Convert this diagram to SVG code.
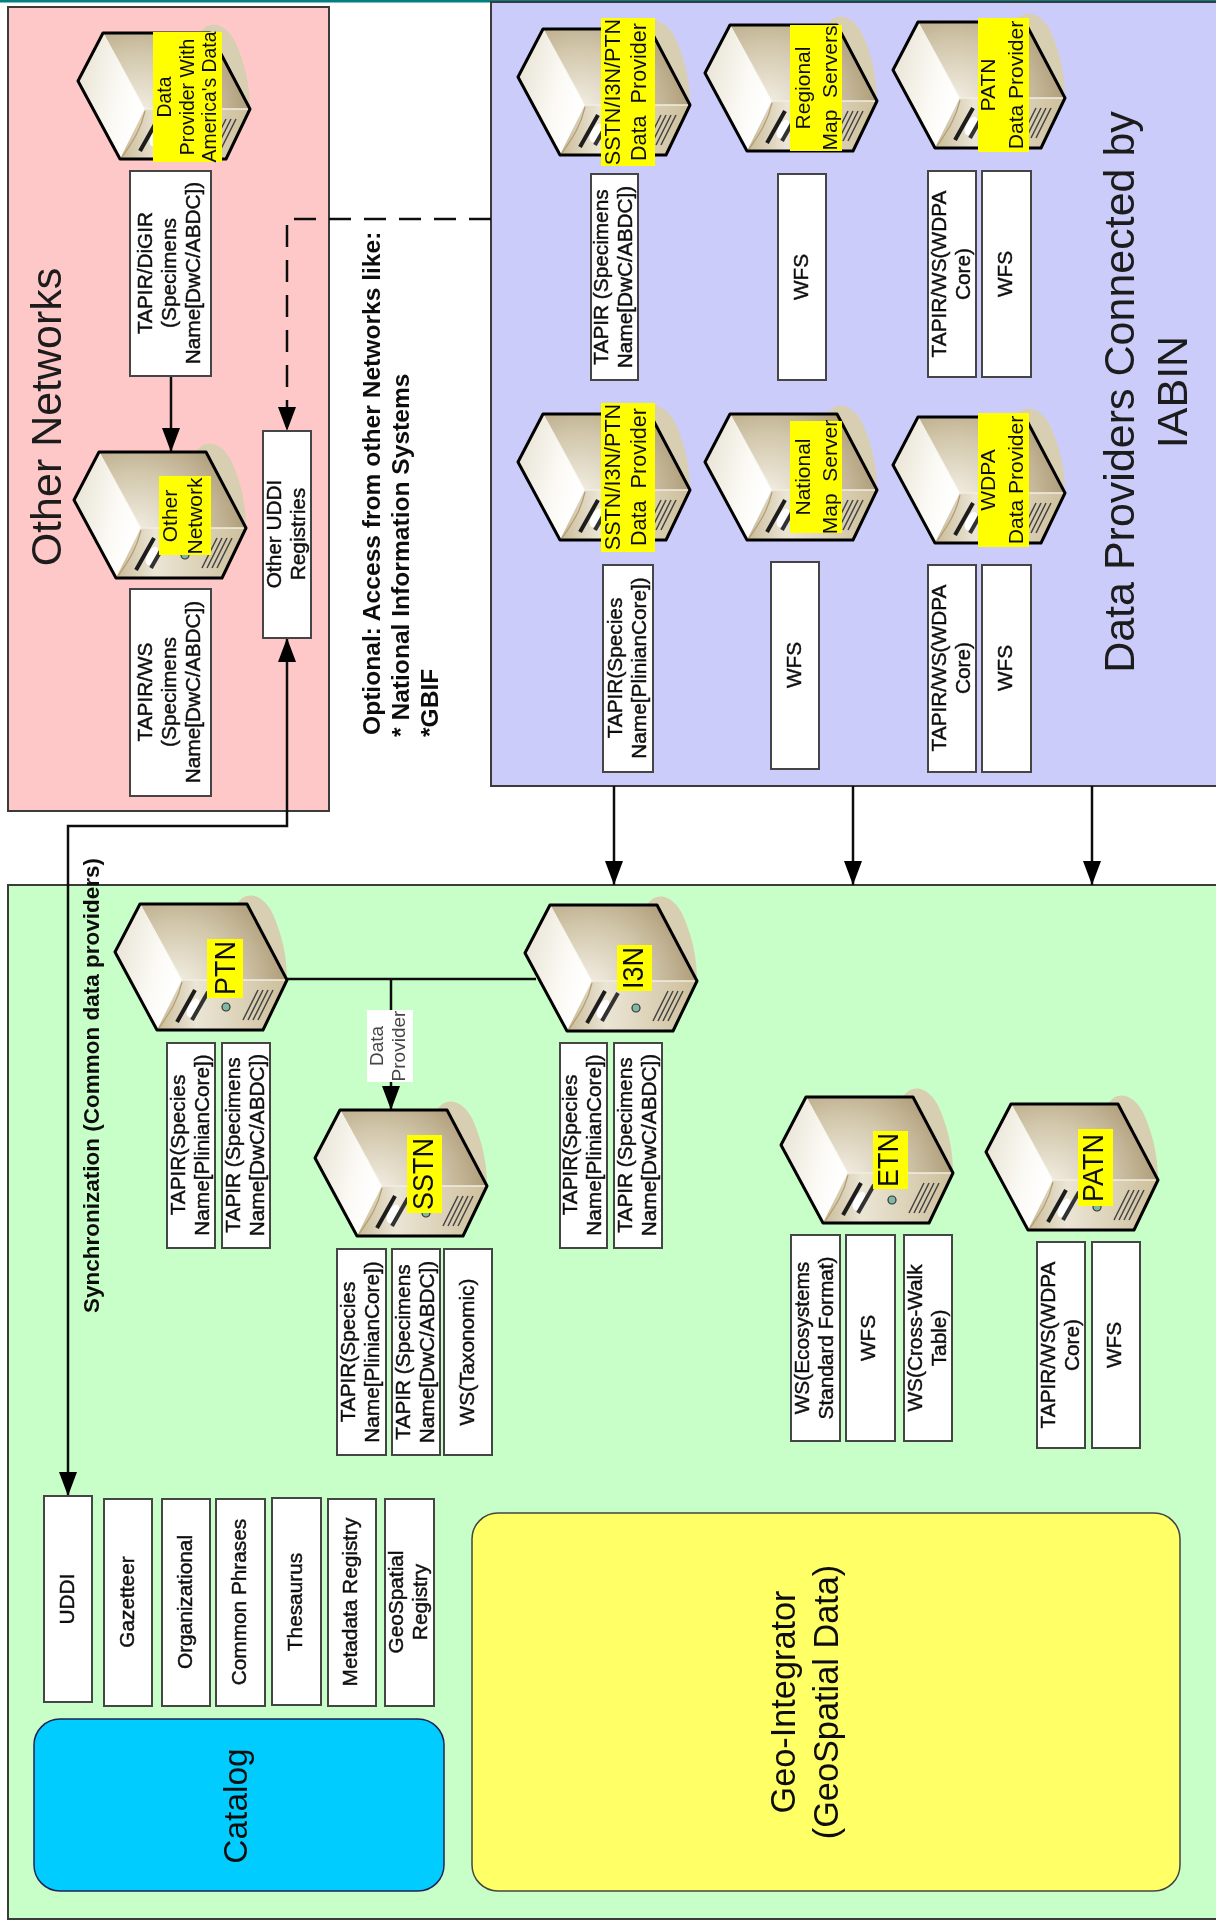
<svg xmlns="http://www.w3.org/2000/svg" xmlns:xlink="http://www.w3.org/1999/xlink" width="1216" height="1920" viewBox="0 0 1216 1920">
<style>
text{font-family:"Liberation Sans",Arial,sans-serif;fill:#111}
.panel{stroke:#3a3a3a;stroke-width:2}
.box{fill:#fff;stroke:#444;stroke-width:2}
.b text{font-size:20.8px;text-anchor:middle;stroke:#111;stroke-width:.45}
.y{fill:#ff0}
.l{text-anchor:middle}
.ttl{font-size:43px;text-anchor:middle;fill:#1a1a1a}
.c{fill:none;stroke:#111;stroke-width:2.5}
</style>
<defs>
<filter id="soft" x="0" y="0" width="1" height="1" filterUnits="objectBoundingBox"><feGaussianBlur stdDeviation="0.55"/></filter>
<linearGradient id="gl" x1="0" y1="0" x2="1" y2="0.4"><stop offset="0" stop-color="#e6e0d0"/><stop offset="0.7" stop-color="#fbfaf5"/><stop offset="1" stop-color="#fff"/></linearGradient>
<radialGradient id="gt" gradientUnits="userSpaceOnUse" cx="62" cy="82" r="125"><stop offset="0" stop-color="#f4f0e6"/><stop offset="0.5" stop-color="#d2c7ab"/><stop offset="1" stop-color="#a4906a"/></radialGradient>
<linearGradient id="gb" x1="0" y1="0" x2="1" y2="0"><stop offset="0" stop-color="#c9bb98"/><stop offset="0.3" stop-color="#ebe5d5"/><stop offset="1" stop-color="#cdbf9b"/></linearGradient>
<marker id="ah" markerUnits="userSpaceOnUse" markerWidth="24" markerHeight="18" refX="24" refY="9" orient="auto-start-reverse"><path d="M0,0L24,9L0,18z" fill="#000"/></marker>
<symbol id="srv" overflow="visible" width="175" height="130">
<path d="M122,0C130,-14 150,-12 160,15C170,40 172,60 172,76L132,40z" fill="#d8cfb3"/>
<path d="M25,0H132L172,76H67z" fill="url(#gt)"/>
<path d="M25,0L0,48L42,126L67,76z" fill="url(#gl)"/>
<path d="M67,76H172L148,126H42z" fill="url(#gb)"/>
<path d="M67,76H172" stroke="#f2eee2" stroke-width="1.5" fill="none"/>
<path d="M25,0L67,76" stroke="#f6f3ea" stroke-width="1" fill="none"/>
<path d="M67,78C62,100 52,112 44,124" stroke="#b59c70" stroke-width="1.2" fill="none"/>
<ellipse cx="78" cy="104" rx="5" ry="10" transform="rotate(28 78 104)" fill="#fff"/>
<g fill="none"><path d="M80,86L62,118" stroke="#1c1c1c" stroke-width="4"/><path d="M93,88L77,116" stroke="#333" stroke-width="4"/><path d="M143,86L128,116M148,86L133,116M153,86L138,116M158,86L143,116" stroke-width="1.5" stroke="#444"/></g>
<circle cx="111" cy="103" r="4" fill="#7fb8a4" stroke="#333" stroke-width="1.2"/>
<path d="M25,0H132L172,76L148,126H42L0,48z" fill="none" stroke="#000" stroke-width="3" stroke-linejoin="round"/>
</symbol>
</defs>
<g filter="url(#soft)">
<rect width="1216" height="1920" fill="#fff"/>
<rect x="0" y="0" width="1216" height="2.5" fill="#008080"/>
<g id="panels">
<rect id="panel-other" class="panel" x="8" y="7" width="321" height="804" fill="#ffc8c8"/>
<rect id="panel-iabin" class="panel" x="491" y="2" width="730" height="784" fill="#ccccfb"/>
<rect id="panel-main" class="panel" x="8" y="885" width="1213" height="1034" fill="#c8ffc8"/>
</g>
<g id="titles">
<text class="ttl" transform="translate(61,417) rotate(-90)">Other Networks</text>
<text class="ttl" transform="translate(0,392) rotate(-90)"><tspan x="0" y="1134">Data Providers Connected by</tspan><tspan x="0" y="1187">IABIN</tspan></text>
<text transform="rotate(-90)" font-size="24.6" font-weight="bold"><tspan x="-735" y="380">Optional: Access from other Networks like:</tspan><tspan x="-737" y="409">* National Information Systems</tspan><tspan x="-737" y="438">*GBIF</tspan></text>
<text transform="rotate(-90)" font-size="22.5" font-weight="bold"><tspan x="-1313" y="99">Synchronization (Common data providers)</tspan></text>
</g>
<g id="connectors">
<path class="c" d="M171,376V452" marker-end="url(#ah)"/>
<path class="c" d="M491,219H287V431" stroke-dasharray="22 13" marker-end="url(#ah)"/>
<path class="c" d="M68,1496V826H287V638" marker-start="url(#ah)" marker-end="url(#ah)"/>
<path class="c" d="M614,786V885" marker-end="url(#ah)"/>
<path class="c" d="M853,786V885" marker-end="url(#ah)"/>
<path class="c" d="M1092,786V885" marker-end="url(#ah)"/>
<path class="c" d="M287,979H536"/>
<path class="c" d="M391,979V1110" marker-end="url(#ah)"/>
</g>
<g id="edge-label">
<rect x="367" y="1010" width="46" height="72" fill="#fff"/>
<text transform="translate(0,1046) rotate(-90)" font-size="19" class="l" style="fill:#444"><tspan x="0" y="383">Data</tspan><tspan x="0" y="405">Provider</tspan></text>
</g>
<g id="node-america">
<use href="#srv" x="78" y="33"/><rect class="y" x="153" y="32" width="69" height="130"/>
<text class="l" font-size="19.4" transform="translate(0,97) rotate(-90)"><tspan x="0" y="171">Data</tspan><tspan x="0" y="193.5">Provider With</tspan><tspan x="0" y="216">America's Data</tspan></text>
</g>
<g id="node-other">
<use href="#srv" x="74" y="452"/><rect class="y" x="159" y="476" width="52" height="79"/>
<text class="l" font-size="21" transform="translate(0,516) rotate(-90)"><tspan x="0" y="177">Other</tspan><tspan x="0" y="202">Network</tspan></text>
</g>
<g id="node-sstn1">
<use href="#srv" x="518" y="29"/><rect class="y" x="601" y="18" width="54" height="148"/>
<text class="l" font-size="21.6" transform="translate(0,92) rotate(-90)"><tspan x="0" y="620">SSTN/I3N/PTN</tspan><tspan x="0" y="646" xml:space="preserve">Data  Provider</tspan></text>
</g>
<g id="node-regional">
<use href="#srv" x="705" y="25"/><rect class="y" x="790" y="25" width="52" height="126"/>
<text class="l" font-size="21" transform="translate(0,88) rotate(-90)"><tspan x="0" y="810">Regional</tspan><tspan x="0" y="837" xml:space="preserve">Map  Servers</tspan></text>
</g>
<g id="node-patn1">
<use href="#srv" x="893" y="22"/><rect class="y" x="978" y="18" width="51" height="134"/>
<text class="l" font-size="21" transform="translate(0,85) rotate(-90)"><tspan x="0" y="995">PATN</tspan><tspan x="0" y="1023">Data Provider</tspan></text>
</g>
<g id="node-sstn2">
<use href="#srv" x="518" y="414"/><rect class="y" x="601" y="403" width="54" height="149"/>
<text class="l" font-size="21.6" transform="translate(0,477) rotate(-90)"><tspan x="0" y="620">SSTN/I3N/PTN</tspan><tspan x="0" y="646" xml:space="preserve">Data  Provider</tspan></text>
</g>
<g id="node-national">
<use href="#srv" x="705" y="414"/><rect class="y" x="790" y="421" width="52" height="112"/>
<text class="l" font-size="21" transform="translate(0,477) rotate(-90)"><tspan x="0" y="810">National</tspan><tspan x="0" y="837" xml:space="preserve">Map  Server</tspan></text>
</g>
<g id="node-wdpa">
<use href="#srv" x="893" y="417"/><rect class="y" x="978" y="413" width="51" height="134"/>
<text class="l" font-size="21" transform="translate(0,480) rotate(-90)"><tspan x="0" y="995">WDPA</tspan><tspan x="0" y="1023">Data Provider</tspan></text>
</g>
<g id="node-ptn">
<use href="#srv" x="115" y="904"/><rect class="y" x="207" y="939" width="36" height="59"/>
<text class="l" font-size="30" transform="translate(235,968) rotate(-90) scale(.9,1)">PTN</text>
</g>
<g id="node-sstn3">
<use href="#srv" x="315" y="1110"/><rect class="y" x="407" y="1135" width="35" height="78"/>
<text class="l" font-size="30" transform="translate(433,1174) rotate(-90) scale(.9,1)">SSTN</text>
</g>
<g id="node-i3n">
<use href="#srv" x="525" y="905"/><rect class="y" x="617" y="945" width="35" height="46"/>
<text class="l" font-size="30" transform="translate(643,968) rotate(-90) scale(.9,1)">I3N</text>
</g>
<g id="node-etn">
<use href="#srv" x="781" y="1097"/><rect class="y" x="873" y="1131" width="35" height="58"/>
<text class="l" font-size="30" transform="translate(898,1160) rotate(-90) scale(.9,1)">ETN</text>
</g>
<g id="node-patn2">
<use href="#srv" x="986" y="1104"/><rect class="y" x="1078" y="1129" width="35" height="77"/>
<text class="l" font-size="30" transform="translate(1103,1168) rotate(-90) scale(.9,1)">PATN</text>
</g>
<g id="box-1" class="b"><rect class="box" x="130" y="171" width="81" height="205"/><text transform="translate(169,273) rotate(-90)"><tspan x="0" y="-17">TAPIR/DiGIR</tspan><tspan x="0" y="7">(Specimens</tspan><tspan x="0" y="31">Name[DwC/ABDC])</tspan></text></g>
<g id="box-2" class="b"><rect class="box" x="130" y="589" width="81" height="207"/><text transform="translate(169,692) rotate(-90)"><tspan x="0" y="-17">TAPIR/WS</tspan><tspan x="0" y="7">(Specimens</tspan><tspan x="0" y="31">Name[DwC/ABDC])</tspan></text></g>
<g id="box-3" class="b"><rect class="box" x="263" y="431" width="48" height="207"/><text transform="translate(285.5,534) rotate(-90)"><tspan x="0" y="-5">Other UDDI</tspan><tspan x="0" y="19">Registries</tspan></text></g>
<g id="box-4" class="b"><rect class="box" x="591" y="174" width="47" height="206"/><text transform="translate(613,277) rotate(-90)"><tspan x="0" y="-5">TAPIR (Specimens</tspan><tspan x="0" y="19">Name[DwC/ABDC])</tspan></text></g>
<g id="box-5" class="b"><rect class="box" x="778" y="174" width="48" height="206"/><text transform="translate(800.5,277) rotate(-90)"><tspan x="0" y="7">WFS</tspan></text></g>
<g id="box-6" class="b"><rect class="box" x="928" y="171" width="48" height="206"/><text transform="translate(950.5,274) rotate(-90)"><tspan x="0" y="-5">TAPIR/WS(WDPA</tspan><tspan x="0" y="19">Core)</tspan></text></g>
<g id="box-7" class="b"><rect class="box" x="982" y="171" width="49" height="206"/><text transform="translate(1005,274) rotate(-90)"><tspan x="0" y="7">WFS</tspan></text></g>
<g id="box-8" class="b"><rect class="box" x="603" y="565" width="50" height="207"/><text transform="translate(626.5,668) rotate(-90)"><tspan x="0" y="-5">TAPIR(Species</tspan><tspan x="0" y="19">Name[PlinianCore])</tspan></text></g>
<g id="box-9" class="b"><rect class="box" x="771" y="562" width="48" height="207"/><text transform="translate(793.5,665) rotate(-90)"><tspan x="0" y="7">WFS</tspan></text></g>
<g id="box-10" class="b"><rect class="box" x="928" y="565" width="48" height="207"/><text transform="translate(950.5,668) rotate(-90)"><tspan x="0" y="-5">TAPIR/WS(WDPA</tspan><tspan x="0" y="19">Core)</tspan></text></g>
<g id="box-11" class="b"><rect class="box" x="982" y="565" width="49" height="207"/><text transform="translate(1005,668) rotate(-90)"><tspan x="0" y="7">WFS</tspan></text></g>
<g id="box-12" class="b"><rect class="box" x="167" y="1043" width="48" height="205"/><text transform="translate(189.5,1145) rotate(-90)"><tspan x="0" y="-5">TAPIR(Species</tspan><tspan x="0" y="19">Name[PlinianCore])</tspan></text></g>
<g id="box-13" class="b"><rect class="box" x="222" y="1043" width="48" height="205"/><text transform="translate(244.5,1145) rotate(-90)"><tspan x="0" y="-5">TAPIR (Specimens</tspan><tspan x="0" y="19">Name[DwC/ABDC])</tspan></text></g>
<g id="box-14" class="b"><rect class="box" x="337" y="1249" width="49" height="206"/><text transform="translate(360,1352) rotate(-90)"><tspan x="0" y="-5">TAPIR(Species</tspan><tspan x="0" y="19">Name[PlinianCore])</tspan></text></g>
<g id="box-15" class="b"><rect class="box" x="392" y="1249" width="48" height="206"/><text transform="translate(414.5,1352) rotate(-90)"><tspan x="0" y="-5">TAPIR (Specimens</tspan><tspan x="0" y="19">Name[DwC/ABDC])</tspan></text></g>
<g id="box-16" class="b"><rect class="box" x="444" y="1249" width="48" height="206"/><text transform="translate(466.5,1352) rotate(-90)"><tspan x="0" y="7">WS(Taxonomic)</tspan></text></g>
<g id="box-17" class="b"><rect class="box" x="560" y="1043" width="47" height="205"/><text transform="translate(582,1145) rotate(-90)"><tspan x="0" y="-5">TAPIR(Species</tspan><tspan x="0" y="19">Name[PlinianCore])</tspan></text></g>
<g id="box-18" class="b"><rect class="box" x="614" y="1043" width="48" height="205"/><text transform="translate(636.5,1145) rotate(-90)"><tspan x="0" y="-5">TAPIR (Specimens</tspan><tspan x="0" y="19">Name[DwC/ABDC])</tspan></text></g>
<g id="box-19" class="b"><rect class="box" x="791" y="1235" width="49" height="206"/><text transform="translate(814,1338) rotate(-90)"><tspan x="0" y="-5">WS(Ecosystems</tspan><tspan x="0" y="19">Standard Format)</tspan></text></g>
<g id="box-20" class="b"><rect class="box" x="846" y="1235" width="49" height="206"/><text transform="translate(868,1338) rotate(-90)"><tspan x="0" y="7">WFS</tspan></text></g>
<g id="box-21" class="b"><rect class="box" x="904" y="1235" width="48" height="206"/><text transform="translate(926.5,1338) rotate(-90)"><tspan x="0" y="-5">WS(Cross-Walk</tspan><tspan x="0" y="19">Table)</tspan></text></g>
<g id="box-22" class="b"><rect class="box" x="1037" y="1242" width="48" height="206"/><text transform="translate(1059.5,1345) rotate(-90)"><tspan x="0" y="-5">TAPIR/WS(WDPA</tspan><tspan x="0" y="19">Core)</tspan></text></g>
<g id="box-23" class="b"><rect class="box" x="1092" y="1242" width="48" height="206"/><text transform="translate(1114,1345) rotate(-90)"><tspan x="0" y="7">WFS</tspan></text></g>
<g id="box-uddi" class="b"><rect class="box" x="44" y="1496" width="48" height="206"/><text transform="translate(66.5,1599) rotate(-90)"><tspan x="0" y="7">UDDI</tspan></text></g>
<g id="box-gazetteer" class="b"><rect class="box" x="104" y="1499" width="48" height="207"/><text transform="translate(126.5,1602) rotate(-90)"><tspan x="0" y="7">Gazetteer</tspan></text></g>
<g id="box-organizational" class="b"><rect class="box" x="162" y="1499" width="48" height="207"/><text transform="translate(184.5,1602) rotate(-90)"><tspan x="0" y="7">Organizational</tspan></text></g>
<g id="box-phrases" class="b"><rect class="box" x="216" y="1499" width="49" height="207"/><text transform="translate(238.5,1602) rotate(-90)"><tspan x="0" y="7">Common Phrases</tspan></text></g>
<g id="box-thesaurus" class="b"><rect class="box" x="272" y="1498" width="49" height="207"/><text transform="translate(295,1602) rotate(-90)"><tspan x="0" y="7">Thesaurus</tspan></text></g>
<g id="box-metadata" class="b"><rect class="box" x="328" y="1499" width="48" height="207"/><text transform="translate(350,1602) rotate(-90)"><tspan x="0" y="7">Metadata Registry</tspan></text></g>
<g id="box-geospatial" class="b"><rect class="box" x="385" y="1499" width="49" height="207"/><text transform="translate(407.5,1602) rotate(-90)"><tspan x="0" y="-5">GeoSpatial</tspan><tspan x="0" y="19">Registry</tspan></text></g>
<g id="node-catalog"><rect x="34" y="1719" width="410" height="172" rx="26" fill="#00ccff" stroke="#225" stroke-width="1.5"/><text class="l" font-size="33.5" transform="translate(247,1806) rotate(-90)">Catalog</text></g>
<g id="node-geo"><rect x="472" y="1513" width="708" height="378" rx="26" fill="#ffff66" stroke="#444" stroke-width="1.5"/><text class="l" font-size="34.3" transform="translate(0,1702) rotate(-90)"><tspan x="0" y="795">Geo-Integrator</tspan><tspan x="0" y="838">(GeoSpatial Data)</tspan></text></g>
</g>
</svg>
